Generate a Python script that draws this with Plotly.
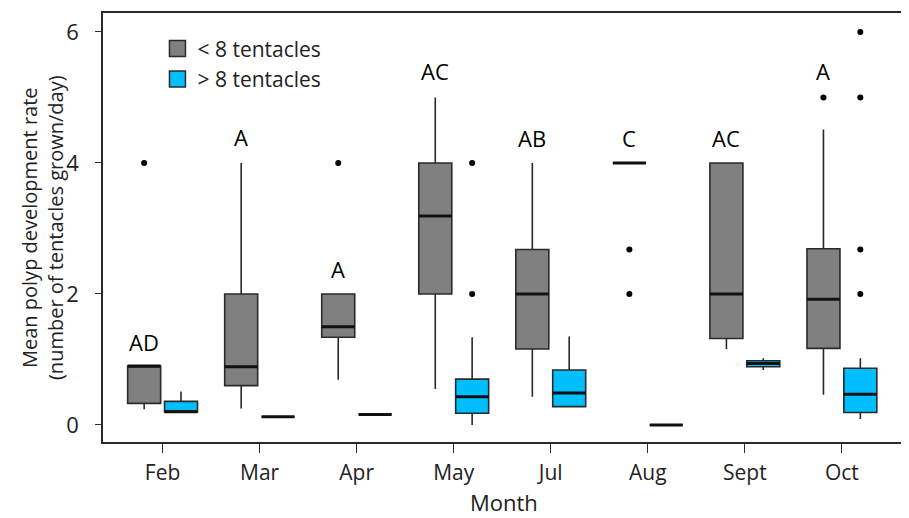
import plotly.graph_objects as go

months = ["Feb", "Mar", "Apr", "May", "Jul", "Aug", "Sept", "Oct"]

# < 8 tentacles (grey)
gray_q1 = [0.33, 0.60, 1.34, 2.00, 1.16, 4.00, 1.32, 1.17]
gray_med = [0.90, 0.89, 1.50, 3.19, 2.00, 4.00, 2.00, 1.92]
gray_q3 = [0.90, 2.00, 2.00, 4.00, 2.68, 4.00, 4.00, 2.69]
gray_lo = [0.24, 0.25, 0.69, 0.55, 0.43, 4.00, 1.16, 0.46]
gray_hi = [0.90, 4.00, 2.00, 5.00, 4.00, 4.00, 4.00, 4.51]
gray_out_month = ["Feb", "Apr", "Aug", "Aug", "Oct"]
gray_out_val = [4.0, 4.0, 2.68, 2.0, 5.0]

# > 8 tentacles (blue)
blue_q1 = [0.20, 0.125, 0.16, 0.18, 0.28, 0.00, 0.89, 0.19]
blue_med = [0.20, 0.125, 0.16, 0.43, 0.49, 0.00, 0.94, 0.47]
blue_q3 = [0.36, 0.125, 0.16, 0.70, 0.84, 0.00, 0.98, 0.865]
blue_lo = [0.20, 0.125, 0.16, 0.00, 0.28, 0.00, 0.84, 0.09]
blue_hi = [0.51, 0.125, 0.16, 1.34, 1.35, 0.00, 1.02, 1.02]
blue_out_month = ["May", "May", "Oct", "Oct", "Oct", "Oct"]
blue_out_val = [4.0, 2.0, 6.0, 5.0, 2.68, 2.0]

# significance letters (above grey boxes)
letters = ["AD", "A", "A", "AC", "AB", "C", "AC", "A"]
letter_y = [1.27, 4.4, 2.38, 5.4, 4.38, 4.38, 4.38, 5.4]

y_ticks = [0, 2, 4, 6]

FONT = "Open Sans"
GRAY = "#808080"
BLUE = "#00BFFF"
EDGE = "#2a2a2a"
OFF = 0.19
BW = 0.34

idx = {m: i for i, m in enumerate(months)}
xg = [i - OFF for i in range(len(months))]
xb = [i + OFF for i in range(len(months))]

fig = go.Figure()

def add_box(xs, q1, med, q3, lo, hi, fill):
    fig.add_trace(go.Box(
        x=xs, q1=q1, median=med, q3=q3, lowerfence=lo, upperfence=hi,
        width=BW, whiskerwidth=0, fillcolor=fill,
        line=dict(color=EDGE, width=1.6), boxpoints=False,
        showlegend=False, hoverinfo="skip"))
    # thick median line
    fig.add_trace(go.Box(
        x=xs, q1=med, median=med, q3=med, lowerfence=med, upperfence=med,
        width=BW, whiskerwidth=0, fillcolor="rgba(0,0,0,0)",
        line=dict(color="#111111", width=3), boxpoints=False,
        showlegend=False, hoverinfo="skip"))

add_box(xg, gray_q1, gray_med, gray_q3, gray_lo, gray_hi, GRAY)
add_box(xb, blue_q1, blue_med, blue_q3, blue_lo, blue_hi, BLUE)

fig.add_trace(go.Scatter(
    x=[idx[m] - OFF for m in gray_out_month], y=gray_out_val, mode="markers",
    marker=dict(color="black", size=6), showlegend=False, hoverinfo="skip"))
fig.add_trace(go.Scatter(
    x=[idx[m] + OFF for m in blue_out_month], y=blue_out_val, mode="markers",
    marker=dict(color="black", size=6), showlegend=False, hoverinfo="skip"))

# legend entries
for name, col in [("< 8 tentacles", GRAY), ("> 8 tentacles", BLUE)]:
    fig.add_trace(go.Scatter(
        x=[None], y=[None], mode="markers", name=name,
        marker=dict(symbol="square", size=17, color=col,
                    line=dict(color=EDGE, width=1.5))))

for i, (t, yv) in enumerate(zip(letters, letter_y)):
    fig.add_annotation(x=i - OFF, y=yv, text=t, showarrow=False,
                       font=dict(family=FONT, size=22, color="black"),
                       xanchor="center", yanchor="middle")

# y-axis title (two centred lines)
fig.add_annotation(
    xref="paper", yref="paper", x=-0.0755, y=0.5,
    text="Mean polyp development rate<br>(number of tentacles grown/day)",
    textangle=-90, showarrow=False, xanchor="center", yanchor="middle",
    font=dict(family=FONT, size=20, color="#222222"))

# x-axis title
fig.add_annotation(
    xref="paper", yref="paper", x=0.5, y=-0.14,
    text="Month", showarrow=False, xanchor="center", yanchor="middle",
    font=dict(family=FONT, size=22, color="#222222"))

fig.update_layout(
    width=909, height=518,
    margin=dict(l=95, r=13, t=5, b=84),
    paper_bgcolor="white", plot_bgcolor="white",
    font=dict(family=FONT, size=20, color="#222222"),
    legend=dict(x=0.068, y=0.964, xanchor="left", yanchor="top",
                bgcolor="rgba(0,0,0,0)", font=dict(size=21),
                itemsizing="trace", tracegroupgap=0),
)
fig.update_xaxes(
    range=[-0.614, 7.64], tickvals=list(range(len(months))), ticktext=months,
    showline=True, mirror=True, linecolor=EDGE, linewidth=1.5,
    ticks="outside", ticklen=9, tickcolor=EDGE, showgrid=False, zeroline=False,
    automargin=False, ticklabelstandoff=2,
    tickfont=dict(size=21))
fig.update_yaxes(
    range=[-0.26, 6.29], tickvals=y_ticks,
    showline=True, mirror=True, linecolor=EDGE, linewidth=1.5,
    ticks="outside", ticklen=6, tickcolor=EDGE, showgrid=False, zeroline=False,
    automargin=False, ticklabelstandoff=12,
    tickfont=dict(size=22))

fig.write_html("out.html")
